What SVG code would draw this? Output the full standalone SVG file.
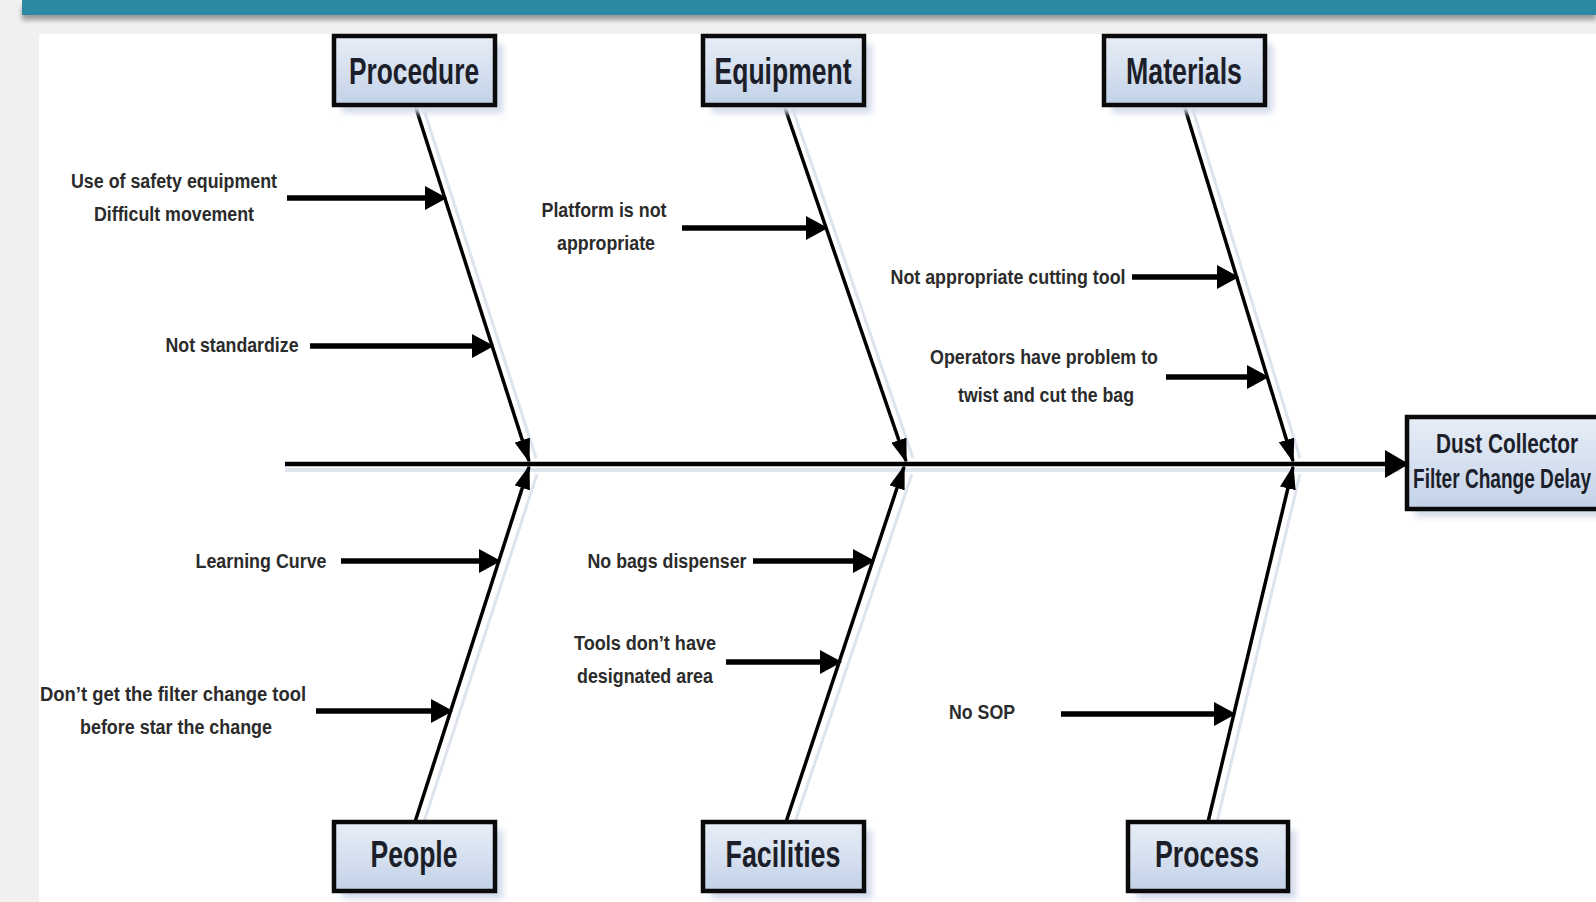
<svg xmlns="http://www.w3.org/2000/svg" width="1596" height="902" viewBox="0 0 1596 902">
<defs>
<linearGradient id="boxFill" x1="0" y1="0" x2="0" y2="1">
<stop offset="0" stop-color="#e8eef7"/>
<stop offset="1" stop-color="#c3d2e8"/>
</linearGradient>
<filter id="blur" x="-20%" y="-20%" width="140%" height="140%"><feGaussianBlur stdDeviation="3"/></filter>
<filter id="barShadow" x="-5%" y="-50%" width="110%" height="300%"><feGaussianBlur stdDeviation="2.5"/></filter>
<marker id="subHead" viewBox="0 0 22 24" refX="10" refY="12" markerWidth="22" markerHeight="24" markerUnits="userSpaceOnUse" orient="auto">
<path d="M0,0 L22,12 L0,24 Z" fill="#000"/>
</marker>
<marker id="boneHead" viewBox="0 0 24 16" refX="22" refY="8" markerWidth="24" markerHeight="16" markerUnits="userSpaceOnUse" orient="auto">
<path d="M0,0 L24,8 L0,16 Z" fill="#000"/>
</marker>
<marker id="spineHead" viewBox="0 0 24 28" refX="22" refY="14" markerWidth="24" markerHeight="28" markerUnits="userSpaceOnUse" orient="auto">
<path d="M0,0 L24,14 L0,28 Z" fill="#000"/>
</marker>
</defs>
<style>
.cause{font-family:"Liberation Sans",Arial,sans-serif;font-weight:bold;font-size:20px;fill:#2b2b2b;text-anchor:middle}
.cat{font-family:"Liberation Sans",Arial,sans-serif;font-weight:bold;font-size:36px;fill:#1c1f2a;text-anchor:middle}
.eff{font-family:"Liberation Sans",Arial,sans-serif;font-weight:bold;font-size:27px;fill:#1c1f2a}
.box{fill:url(#boxFill);stroke:#0a0a0a;stroke-width:4.5}
.shadow{fill:#d3dcea;filter:url(#blur)}
.bone{stroke:#000;stroke-width:3.5;fill:none}
.boneShadow{stroke:#dde4ee;stroke-width:3;fill:none}
.sub{stroke:#000;stroke-width:5.5;fill:none;marker-end:url(#subHead)}
</style>
<rect x="0" y="0" width="1596" height="902" fill="#f0f0f0"/>
<rect x="22" y="6" width="1574" height="14" fill="#9a9a9a" filter="url(#barShadow)"/>
<rect x="22" y="0" width="1574" height="15" fill="#2b89a2"/>
<rect x="39" y="34" width="1557" height="868" fill="#ffffff"/>

<g id="connectors">
<line class="boneShadow" x1="424" y1="110" x2="536" y2="458"/>
<line class="boneShadow" x1="793" y1="110" x2="913" y2="458"/>
<line class="boneShadow" x1="1193" y1="110" x2="1300" y2="458"/>
<line class="boneShadow" x1="424" y1="822" x2="537" y2="474"/>
<line class="boneShadow" x1="795" y1="822" x2="912" y2="474"/>
<line class="boneShadow" x1="1217" y1="822" x2="1300" y2="474"/>
<line x1="285" y1="470" x2="1400" y2="470" stroke="#dfe5ee" stroke-width="4"/>
<line x1="285" y1="464" x2="1407" y2="464" stroke="#000" stroke-width="4.5" marker-end="url(#spineHead)"/>
<line class="bone" x1="415" y1="105" x2="529" y2="461" marker-end="url(#boneHead)"/>
<line class="bone" x1="784" y1="105" x2="906" y2="461" marker-end="url(#boneHead)"/>
<line class="bone" x1="1184" y1="105" x2="1293" y2="461" marker-end="url(#boneHead)"/>
<line class="bone" x1="415" y1="822" x2="529" y2="467" marker-end="url(#boneHead)"/>
<line class="bone" x1="786" y1="822" x2="904" y2="467" marker-end="url(#boneHead)"/>
<line class="bone" x1="1208" y1="822" x2="1293" y2="467" marker-end="url(#boneHead)"/>
<line class="sub" x1="287" y1="198" x2="435" y2="198"/>
<line class="sub" x1="310" y1="346" x2="482" y2="346"/>
<line class="sub" x1="682" y1="228" x2="816" y2="228"/>
<line class="sub" x1="1132" y1="277" x2="1227" y2="277"/>
<line class="sub" x1="1166" y1="377" x2="1257" y2="377"/>
<line class="sub" x1="341" y1="561" x2="489" y2="561"/>
<line class="sub" x1="316" y1="711" x2="441" y2="711"/>
<line class="sub" x1="753" y1="561" x2="863" y2="561"/>
<line class="sub" x1="726" y1="662" x2="830" y2="662"/>
<line class="sub" x1="1061" y1="714" x2="1224" y2="714"/>
</g>

<g id="node-procedure">
<rect class="shadow" x="342" y="44" width="161" height="69"/>
<rect class="box" x="334" y="36" width="161" height="69"/>
<text class="cat" x="414" y="84" textLength="130" lengthAdjust="spacingAndGlyphs">Procedure</text>
</g>
<g id="node-equipment">
<rect class="shadow" x="711" y="44" width="161" height="69"/>
<rect class="box" x="703" y="36" width="161" height="69"/>
<text class="cat" x="783" y="84" textLength="137" lengthAdjust="spacingAndGlyphs">Equipment</text>
</g>
<g id="node-materials">
<rect class="shadow" x="1112" y="44" width="161" height="69"/>
<rect class="box" x="1104" y="36" width="161" height="69"/>
<text class="cat" x="1184" y="84" textLength="116" lengthAdjust="spacingAndGlyphs">Materials</text>
</g>
<g id="node-people">
<rect class="shadow" x="342" y="830" width="161" height="69"/>
<rect class="box" x="334" y="822" width="161" height="69"/>
<text class="cat" x="414" y="867" textLength="87" lengthAdjust="spacingAndGlyphs">People</text>
</g>
<g id="node-facilities">
<rect class="shadow" x="711" y="830" width="161" height="69"/>
<rect class="box" x="703" y="822" width="161" height="69"/>
<text class="cat" x="783" y="867" textLength="115" lengthAdjust="spacingAndGlyphs">Facilities</text>
</g>
<g id="node-process">
<rect class="shadow" x="1136" y="830" width="160" height="69"/>
<rect class="box" x="1128" y="822" width="160" height="69"/>
<text class="cat" x="1207" y="867" textLength="104" lengthAdjust="spacingAndGlyphs">Process</text>
</g>
<g id="node-effect">
<rect class="shadow" x="1415" y="425" width="200" height="92"/>
<rect class="box" x="1407" y="417" width="200" height="92"/>
<text class="eff" x="1507" y="453" text-anchor="middle" textLength="142" lengthAdjust="spacingAndGlyphs">Dust  Collector</text>
<text class="eff" x="1413" y="488" textLength="178" lengthAdjust="spacingAndGlyphs">Filter Change Delay</text>
</g>

<g id="node-cause-safety">
<text class="cause" x="174" y="188" textLength="206" lengthAdjust="spacingAndGlyphs">Use of safety equipment</text>
<text class="cause" x="174" y="221" textLength="160" lengthAdjust="spacingAndGlyphs">Difficult movement</text>
</g>
<g id="node-cause-standardize">
<text class="cause" x="232" y="352" textLength="133" lengthAdjust="spacingAndGlyphs">Not standardize</text>
</g>
<g id="node-cause-platform">
<text class="cause" x="604" y="217" textLength="125" lengthAdjust="spacingAndGlyphs">Platform is not</text>
<text class="cause" x="606" y="250" textLength="98" lengthAdjust="spacingAndGlyphs">appropriate</text>
</g>
<g id="node-cause-cutting">
<text class="cause" x="1008" y="284" textLength="235" lengthAdjust="spacingAndGlyphs">Not appropriate cutting tool</text>
</g>
<g id="node-cause-operators">
<text class="cause" x="1044" y="364" textLength="228" lengthAdjust="spacingAndGlyphs">Operators have problem to</text>
<text class="cause" x="1046" y="402" textLength="176" lengthAdjust="spacingAndGlyphs">twist and cut the bag</text>
</g>
<g id="node-cause-learning">
<text class="cause" x="261" y="568" textLength="131" lengthAdjust="spacingAndGlyphs">Learning Curve</text>
</g>
<g id="node-cause-filtertool">
<text class="cause" x="173" y="701" textLength="266" lengthAdjust="spacingAndGlyphs">Don’t get the  filter change  tool</text>
<text class="cause" x="176" y="734" textLength="192" lengthAdjust="spacingAndGlyphs">before star the change</text>
</g>
<g id="node-cause-dispenser">
<text class="cause" x="667" y="568" textLength="159" lengthAdjust="spacingAndGlyphs">No bags dispenser</text>
</g>
<g id="node-cause-tools">
<text class="cause" x="645" y="650" textLength="142" lengthAdjust="spacingAndGlyphs">Tools don’t have</text>
<text class="cause" x="645" y="683" textLength="136" lengthAdjust="spacingAndGlyphs">designated area</text>
</g>
<g id="node-cause-sop">
<text class="cause" x="982" y="719" textLength="66" lengthAdjust="spacingAndGlyphs">No SOP</text>
</g>
</svg>
